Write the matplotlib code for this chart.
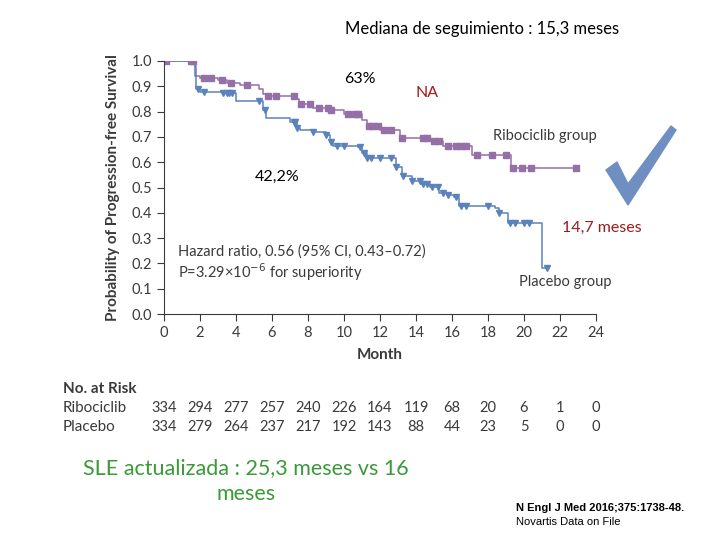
import numpy as np
import matplotlib
matplotlib.use("Agg")
import matplotlib.pyplot as plt
from matplotlib.patches import Polygon
from matplotlib.transforms import blended_transform_factory

plt.rcParams['font.family'] = ['Lato', 'DejaVu Sans']

# Kaplan-Meier steps (month, survival)
rib_t = [0, 1.7, 1.8, 2.0, 3.0, 3.5, 4.2, 5.3, 5.5, 5.8, 7.3, 7.5, 8.3, 9.3,
         10.0, 11.0, 11.3, 12.0, 13.1, 14.7, 15.5, 17.1, 19.3, 23.0]
rib_s = [1.0, 0.98, 0.94, 0.932, 0.925, 0.915, 0.905, 0.89, 0.87, 0.862, 0.85,
         0.83, 0.815, 0.805, 0.79, 0.765, 0.745, 0.727, 0.694, 0.684, 0.664,
         0.63, 0.576, 0.576]
rib_cens = [0.1, 1.5, 1.6, 2.2, 2.6, 3.2, 3.7, 4.6, 5.8, 6.2, 7.2, 7.6, 8.1, 8.6,
            9.1, 9.3, 10.2, 10.6, 10.8, 11.4, 11.6, 11.9, 12.2, 12.6, 13.2, 14.4,
            14.6, 15.0, 15.3, 15.8, 16.2, 16.5, 16.8, 17.4, 18.2, 19.0, 19.4,
            19.9, 20.4, 22.9]

pla_t = [0, 1.7, 1.8, 2.0, 3.3, 4.0, 5.5, 5.65, 7.0, 7.37, 7.55, 8.3, 9.0, 9.2,
         9.4, 10.8, 11.0, 11.26, 12.9, 13.2, 13.8, 14.3, 14.8, 15.3, 15.7, 16.1,
         16.4, 18.4, 18.6, 19.1, 21.0, 21.25]
pla_s = [1.0, 0.94, 0.888, 0.879, 0.872, 0.842, 0.806, 0.773, 0.76, 0.734,
         0.727, 0.718, 0.707, 0.681, 0.664, 0.659, 0.635, 0.615, 0.583, 0.545,
         0.527, 0.514, 0.503, 0.477, 0.47, 0.464, 0.428, 0.418, 0.40, 0.361,
         0.183, 0.183]
pla_cens = [1.9, 2.2, 3.3, 3.5, 3.6, 3.8, 5.3, 5.6, 7.2, 7.3, 7.4, 8.3, 9.0,
            9.3, 9.6, 10.0, 10.9, 11.1, 11.3, 11.5, 12.0, 12.6, 12.9, 13.3, 13.8,
            14.2, 14.4, 14.6, 14.9, 15.2, 15.5, 15.8, 16.2, 16.5, 16.8, 18.0,
            18.6, 19.2, 19.5, 20.0, 20.3, 21.25]

risk_months = [0, 2, 4, 6, 8, 10, 12, 14, 16, 18, 20, 22, 24]
risk_rib = [334, 294, 277, 257, 240, 226, 164, 119, 68, 20, 6, 1, 0]
risk_pla = [334, 279, 264, 237, 217, 192, 143, 88, 44, 23, 5, 0, 0]

purple = '#9470a6'
blue = '#5b83bb'
dark = '#3a3a3a'
red = '#9e1b1b'


def step_at(t, s, x):
    idx = np.searchsorted(t, x, side='right') - 1
    return np.asarray(s)[idx]


fig = plt.figure(figsize=(7.2, 5.4), dpi=100)
ax = fig.add_axes([164/720, 1-314/540, 432/720, 253/540])

ax.step(rib_t, rib_s, where='post', color=purple, lw=1.1)
ax.step(pla_t, pla_s, where='post', color=blue, lw=1.1)
ax.plot(rib_cens, step_at(rib_t, rib_s, rib_cens), 's', color=purple, ms=4, ls='none')
ax.plot(pla_cens, step_at(pla_t, pla_s, pla_cens), 'v', color=blue, ms=4.5, ls='none')

ax.set_xlim(0, 24)
ax.set_ylim(0, 1.0)
ax.set_xticks(np.arange(0, 25, 2))
ax.set_yticks(np.arange(0, 1.01, 0.1))
ax.set_yticklabels([f'{v:.1f}' for v in np.arange(0, 1.01, 0.1)])
for side in ['top', 'right']:
    ax.spines[side].set_visible(False)
for side in ['left', 'bottom']:
    ax.spines[side].set_color(dark)
ax.tick_params(colors=dark, labelsize=10.5, length=5, direction='out')
ax.set_xlabel('Month', fontsize=11, fontweight='bold', color=dark, labelpad=6)
ax.set_ylabel('Probability of Progression-free Survival', fontsize=11,
              fontweight='bold', color=dark, labelpad=8)

ax.text(0.8, 0.2, 'Hazard ratio, 0.56 (95% CI, 0.43\u20130.72)\n'
        'P=3.29\u00d710$^{\u22126}$ for superiority', fontsize=10.5, color=dark,
        va='center', linespacing=1.15)
ax.text(18.3, 0.705, 'Ribociclib group', fontsize=10.5, color=dark, va='center')
ax.text(19.7, 0.125, 'Placebo group', fontsize=10.5, color=dark, va='center')

# Spanish annotations
ax.text(10.9, 0.93, '63%', fontsize=11.5, color='black', ha='center', va='center')
ax.text(14.6, 0.875, 'NA', fontsize=11.5, color=red, ha='center', va='center')
ax.text(6.3, 0.54, '42,2%', fontsize=11.5, color='black', ha='center', va='center')
ax.text(24.3, 0.34, '14,7 meses', fontsize=11.5, color=red, ha='center', va='center',
        clip_on=False)

fig.text(482/720, 1-29/540, 'Mediana de seguimiento : 15,3 meses', fontsize=12,
         ha='center', va='center')

# number at risk table
tr = blended_transform_factory(ax.transData, fig.transFigure)
fig.text(63/720, 1-389/540, 'No. at Risk', fontsize=11, fontweight='bold',
         color=dark, va='center')
fig.text(63/720, 1-408/540, 'Ribociclib', fontsize=11, color=dark, va='center')
fig.text(63/720, 1-427/540, 'Placebo', fontsize=11, color=dark, va='center')
for m, a, b in zip(risk_months, risk_rib, risk_pla):
    ax.text(m, 1-408/540, str(a), transform=tr, fontsize=10.5, color=dark,
            ha='center', va='center')
    ax.text(m, 1-427/540, str(b), transform=tr, fontsize=10.5, color=dark,
            ha='center', va='center')

fig.text(246/720, 1-481/540, 'SLE actualizada : 25,3 meses vs 16\nmeses',
         fontsize=15.5, color='#3a9a3a', ha='center', va='center', linespacing=1.35)

fig.text(516/720, 1-508/540, 'N Engl J Med 2016;375:1738-48.', fontsize=8,
         fontweight='bold', family='Liberation Sans', va='center')
fig.text(516/720, 1-522/540, 'Novartis Data on File', fontsize=8,
         family='Liberation Sans', va='center')

# check mark
pts = [(606, 170), (617, 162), (628, 184), (671, 126), (676, 130), (628, 205)]
fig.patches.append(Polygon([(x/720, 1-y/540) for x, y in pts], closed=True,
                           transform=fig.transFigure, color='#6f8fc2', zorder=3))

fig.savefig('out.png', dpi=100)
